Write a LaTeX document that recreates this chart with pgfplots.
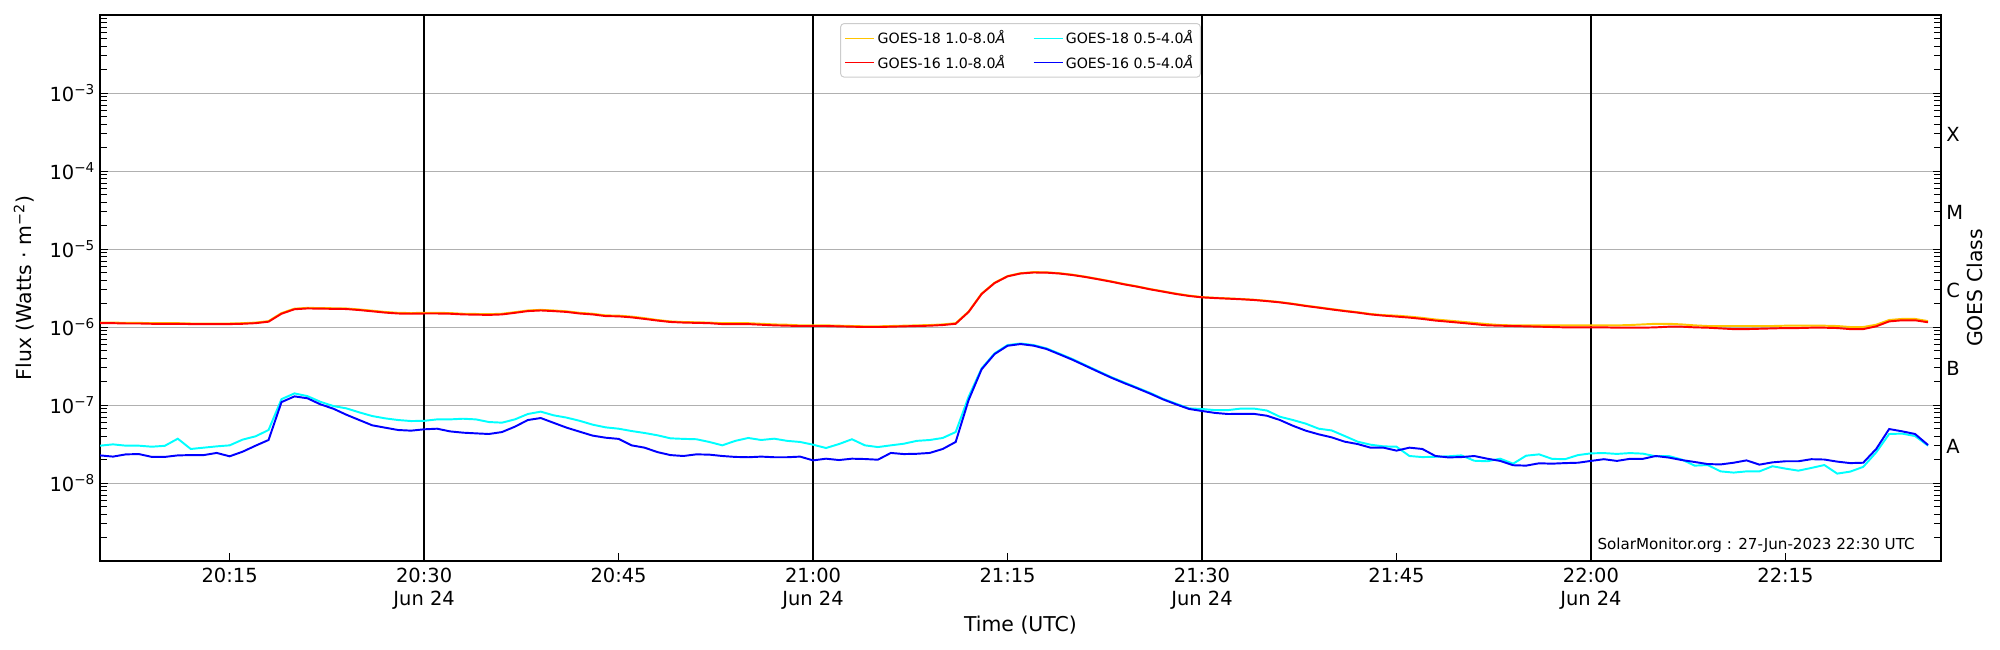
\documentclass[border=0pt]{standalone}
\usepackage{fontspec}
\setmainfont{DejaVu Sans}
\usepackage{pgfplots}
\pgfplotsset{compat=1.18}
\usepackage{pgfplotstable}
\definecolor{cyel}{HTML}{FFC400}
\definecolor{cred}{HTML}{FF0000}
\definecolor{ccya}{HTML}{00FFFF}
\definecolor{cblu}{HTML}{0000FF}
\pgfplotstableread{
m l18 l16 s18 s16
5 1.14e-6 1.12e-6 3.01e-8 2.26e-8
6 1.14e-6 1.12e-6 3.13e-8 2.18e-8
7 1.13e-6 1.11e-6 3.01e-8 2.33e-8
8 1.13e-6 1.11e-6 3.01e-8 2.35e-8
9 1.12e-6 1.10e-6 2.92e-8 2.16e-8
10 1.12e-6 1.10e-6 3.00e-8 2.16e-8
11 1.12e-6 1.10e-6 3.70e-8 2.26e-8
12 1.11e-6 1.09e-6 2.73e-8 2.28e-8
13 1.11e-6 1.09e-6 2.84e-8 2.28e-8
14 1.11e-6 1.09e-6 2.95e-8 2.43e-8
15 1.11e-6 1.09e-6 3.04e-8 2.20e-8
16 1.12e-6 1.10e-6 3.60e-8 2.52e-8
17 1.14e-6 1.12e-6 3.97e-8 3.01e-8
18 1.19e-6 1.17e-6 4.78e-8 3.56e-8
19 1.51e-6 1.48e-6 1.19e-7 1.09e-7
20 1.72e-6 1.69e-6 1.41e-7 1.29e-7
21 1.76e-6 1.73e-6 1.30e-7 1.22e-7
22 1.75e-6 1.72e-6 1.10e-7 1.02e-7
23 1.74e-6 1.71e-6 9.70e-8 8.97e-8
24 1.73e-6 1.70e-6 9.06e-8 7.51e-8
25 1.68e-6 1.65e-6 8.05e-8 6.42e-8
26 1.62e-6 1.59e-6 7.22e-8 5.49e-8
27 1.56e-6 1.53e-6 6.74e-8 5.12e-8
28 1.52e-6 1.49e-6 6.42e-8 4.78e-8
29 1.51e-6 1.48e-6 6.23e-8 4.69e-8
30 1.52e-6 1.49e-6 6.27e-8 4.88e-8
31 1.52e-6 1.49e-6 6.54e-8 4.97e-8
32 1.51e-6 1.48e-6 6.54e-8 4.59e-8
33 1.48e-6 1.45e-6 6.67e-8 4.42e-8
34 1.47e-6 1.44e-6 6.54e-8 4.33e-8
35 1.46e-6 1.43e-6 6.05e-8 4.25e-8
36 1.48e-6 1.45e-6 5.94e-8 4.50e-8
37 1.55e-6 1.52e-6 6.54e-8 5.27e-8
38 1.63e-6 1.60e-6 7.67e-8 6.42e-8
39 1.66e-6 1.63e-6 8.22e-8 6.81e-8
40 1.63e-6 1.60e-6 7.37e-8 5.90e-8
41 1.59e-6 1.56e-6 6.89e-8 5.12e-8
42 1.52e-6 1.49e-6 6.27e-8 4.55e-8
43 1.48e-6 1.45e-6 5.60e-8 4.05e-8
44 1.41e-6 1.38e-6 5.17e-8 3.81e-8
45 1.40e-6 1.37e-6 4.97e-8 3.68e-8
46 1.36e-6 1.33e-6 4.64e-8 3.04e-8
47 1.30e-6 1.27e-6 4.38e-8 2.84e-8
48 1.23e-6 1.21e-6 4.09e-8 2.49e-8
49 1.18e-6 1.16e-6 3.74e-8 2.28e-8
50 1.16e-6 1.14e-6 3.68e-8 2.22e-8
51 1.15e-6 1.13e-6 3.64e-8 2.33e-8
52 1.14e-6 1.12e-6 3.36e-8 2.31e-8
53 1.12e-6 1.09e-6 3.04e-8 2.22e-8
54 1.12e-6 1.09e-6 3.47e-8 2.16e-8
55 1.12e-6 1.09e-6 3.78e-8 2.14e-8
56 1.10e-6 1.07e-6 3.56e-8 2.18e-8
57 1.08e-6 1.05e-6 3.70e-8 2.14e-8
58 1.07e-6 1.04e-6 3.47e-8 2.14e-8
59 1.05e-6 1.03e-6 3.36e-8 2.18e-8
60 1.05e-6 1.03e-6 3.10e-8 1.95e-8
61 1.05e-6 1.03e-6 2.81e-8 2.05e-8
62 1.04e-6 1.02e-6 3.16e-8 1.97e-8
63 1.03e-6 1.01e-6 3.64e-8 2.05e-8
64 1.02e-6 1.00e-6 3.04e-8 2.03e-8
65 1.02e-6 1.00e-6 2.89e-8 1.99e-8
66 1.03e-6 1.01e-6 3.04e-8 2.43e-8
67 1.04e-6 1.02e-6 3.19e-8 2.35e-8
68 1.05e-6 1.03e-6 3.47e-8 2.37e-8
69 1.06e-6 1.04e-6 3.56e-8 2.43e-8
70 1.08e-6 1.06e-6 3.78e-8 2.73e-8
71 1.12e-6 1.10e-6 4.50e-8 3.36e-8
72 1.58e-6 1.56e-6 1.28e-7 1.16e-7
73 2.68e-6 2.65e-6 2.95e-7 2.87e-7
74 3.70e-6 3.66e-6 4.59e-7 4.50e-7
75 4.50e-6 4.46e-6 5.87e-7 5.75e-7
76 4.90e-6 4.85e-6 6.15e-7 6.05e-7
77 5.05e-6 5.00e-6 5.88e-7 5.77e-7
78 5.03e-6 4.98e-6 5.33e-7 5.23e-7
79 4.90e-6 4.85e-6 4.56e-7 4.47e-7
80 4.69e-6 4.64e-6 3.89e-7 3.81e-7
81 4.42e-6 4.38e-6 3.25e-7 3.19e-7
82 4.13e-6 4.09e-6 2.72e-7 2.67e-7
83 3.85e-6 3.81e-6 2.28e-7 2.24e-7
84 3.56e-6 3.52e-6 1.95e-7 1.91e-7
85 3.32e-6 3.29e-6 1.67e-7 1.64e-7
86 3.07e-6 3.04e-6 1.43e-7 1.40e-7
87 2.87e-6 2.84e-6 1.20e-7 1.18e-7
88 2.68e-6 2.65e-6 1.04e-7 1.02e-7
89 2.53e-6 2.50e-6 9.06e-8 8.90e-8
90 2.42e-6 2.40e-6 8.89e-8 8.38e-8
91 2.37e-6 2.35e-6 8.60e-8 7.92e-8
92 2.33e-6 2.31e-6 8.60e-8 7.67e-8
93 2.29e-6 2.27e-6 9.00e-8 7.70e-8
94 2.24e-6 2.22e-6 9.00e-8 7.70e-8
95 2.17e-6 2.15e-6 8.50e-8 7.29e-8
96 2.09e-6 2.07e-6 7.08e-8 6.43e-8
97 1.99e-6 1.97e-6 6.43e-8 5.43e-8
98 1.88e-6 1.86e-6 5.77e-8 4.69e-8
99 1.79e-6 1.77e-6 4.97e-8 4.21e-8
100 1.70e-6 1.68e-6 4.72e-8 3.85e-8
101 1.62e-6 1.60e-6 4.01e-8 3.39e-8
102 1.55e-6 1.53e-6 3.39e-8 3.16e-8
103 1.47e-6 1.45e-6 3.10e-8 2.84e-8
104 1.42e-6 1.40e-6 2.95e-8 2.84e-8
105 1.40e-6 1.36e-6 2.92e-8 2.60e-8
106 1.36e-6 1.32e-6 2.22e-8 2.84e-8
107 1.31e-6 1.27e-6 2.15e-8 2.73e-8
108 1.25e-6 1.21e-6 2.17e-8 2.22e-8
109 1.21e-6 1.17e-6 2.20e-8 2.13e-8
110 1.17e-6 1.13e-6 2.26e-8 2.15e-8
111 1.13e-6 1.09e-6 1.93e-8 2.22e-8
112 1.09e-6 1.05e-6 1.90e-8 2.05e-8
113 1.06e-6 1.04e-6 2.05e-8 1.92e-8
114 1.05e-6 1.03e-6 1.77e-8 1.69e-8
115 1.05e-6 1.02e-6 2.24e-8 1.67e-8
116 1.05e-6 1.01e-6 2.33e-8 1.79e-8
117 1.05e-6 1.00e-6 2.04e-8 1.77e-8
118 1.05e-6 0.99e-6 2.02e-8 1.80e-8
119 1.05e-6 0.99e-6 2.28e-8 1.82e-8
120 1.05e-6 0.99e-6 2.40e-8 1.92e-8
121 1.05e-6 0.99e-6 2.42e-8 2.02e-8
122 1.05e-6 0.98e-6 2.36e-8 1.92e-8
123 1.06e-6 0.98e-6 2.42e-8 2.04e-8
124 1.08e-6 0.98e-6 2.38e-8 2.04e-8
125 1.10e-6 0.99e-6 2.20e-8 2.22e-8
126 1.10e-6 1.01e-6 2.22e-8 2.12e-8
127 1.08e-6 1.01e-6 2.00e-8 1.97e-8
128 1.05e-6 0.99e-6 1.67e-8 1.86e-8
129 1.03e-6 0.98e-6 1.70e-8 1.75e-8
130 1.03e-6 0.96e-6 1.41e-8 1.73e-8
131 1.03e-6 0.94e-6 1.36e-8 1.82e-8
132 1.03e-6 0.94e-6 1.41e-8 1.95e-8
133 1.03e-6 0.95e-6 1.41e-8 1.72e-8
134 1.03e-6 0.96e-6 1.64e-8 1.84e-8
135 1.04e-6 0.97e-6 1.53e-8 1.90e-8
136 1.04e-6 0.97e-6 1.44e-8 1.90e-8
137 1.04e-6 0.98e-6 1.56e-8 2.02e-8
138 1.04e-6 0.98e-6 1.70e-8 2.00e-8
139 1.03e-6 0.97e-6 1.32e-8 1.88e-8
140 1.00e-6 0.94e-6 1.40e-8 1.80e-8
141 1.00e-6 0.94e-6 1.61e-8 1.82e-8
142 1.07e-6 1.02e-6 2.47e-8 2.73e-8
143 1.23e-6 1.18e-6 4.25e-8 4.92e-8
144 1.27e-6 1.22e-6 4.30e-8 4.60e-8
145 1.27e-6 1.22e-6 4.00e-8 4.25e-8
146 1.19e-6 1.15e-6 3.01e-8 3.07e-8
}\goes

\begin{document}
\begin{tikzpicture}[x=1pt,y=1pt]
\useasboundingbox (0,0) rectangle (1440,468);
\begin{axis}[
  at={(72pt,64.08pt)}, anchor=south west,
  scale only axis, width=1325.5pt, height=393.1pt,
  clip mode=individual,
  xmin=5, xmax=147,
  ymode=log, ymin=1e-9, ymax=1e-2,
  axis line style={line width=0.9pt},
  tick align=inside,
  xtick pos=bottom,
  xtick={15,30,45,60,75,90,105,120,135},
  xticklabels={20:15,{20:30\\Jun 24},20:45,{21:00\\Jun 24},21:15,{21:30\\Jun 24},21:45,{22:00\\Jun 24},22:15},
  xticklabel style={font=\fontsize{14}{16.6}\selectfont, align=center, inner sep=0pt, yshift=-5pt},
  ytick={1e-8,1e-7,1e-6,1e-5,1e-4,1e-3},
  yticklabels={10\textsuperscript{−8},10\textsuperscript{−7},10\textsuperscript{−6},10\textsuperscript{−5},10\textsuperscript{−4},10\textsuperscript{−3}},
  yticklabel style={font=\fontsize{14}{16}\selectfont},
  minor ytick={2e-9,3e-9,4e-9,5e-9,6e-9,7e-9,8e-9,9e-9,
    2e-8,3e-8,4e-8,5e-8,6e-8,7e-8,8e-8,9e-8,
    2e-7,3e-7,4e-7,5e-7,6e-7,7e-7,8e-7,9e-7,
    2e-6,3e-6,4e-6,5e-6,6e-6,7e-6,8e-6,9e-6,
    2e-5,3e-5,4e-5,5e-5,6e-5,7e-5,8e-5,9e-5,
    2e-4,3e-4,4e-4,5e-4,6e-4,7e-4,8e-4,9e-4,
    2e-3,3e-3,4e-3,5e-3,6e-3,7e-3,8e-3,9e-3},
  major tick length=5.5pt, minor tick length=5.2pt,
  every tick/.style={black, line width=0.7pt},
  ymajorgrids,
  major grid style={color=black!31, line width=0.7pt},
  extra x ticks={30,60,90,120},
  extra x tick labels={},
  extra x tick style={grid=major, major grid style={black, line width=0.9pt}, major tick length=0pt},
  xlabel={Time (UTC)},
  xlabel style={font=\fontsize{14.7}{17}\selectfont, at={(axis description cs:0.5,-0.1172)}, anchor=center},
  ylabel={Flux (Watts · m\textsuperscript{−2})},
  ylabel style={font=\fontsize{14.7}{17}\selectfont, at={(axis description cs:-0.0413,0.5)}, anchor=center},
  legend columns=2,
  legend cell align=left,
  legend style={at={(0.5,1)}, anchor=north, yshift=-5.8pt,
    font=\fontsize{10.2}{11.5}\selectfont, draw=black!20, line width=0.7pt,
    rounded corners=2.5pt, fill=white, row sep=2.6pt,
    inner xsep=3pt, inner ysep=3pt,
    /tikz/every even column/.append style={column sep=18pt}},
  legend image code/.code={\draw[#1, line width=0.75pt] (0pt,0pt) -- (20.9pt,0pt);},
]
\addplot[cyel, line width=1.4pt] table[x=m, y=l18] {\goes};
\addlegendentry{GOES-18 1.0-8.0\textit{Å}}
\addplot[ccya, line width=1.4pt] table[x=m, y=s18] {\goes};
\addlegendentry{GOES-18 0.5-4.0\textit{Å}}
\addplot[cred, line width=1.4pt] table[x=m, y=l16] {\goes};
\addlegendentry{GOES-16 1.0-8.0\textit{Å}}
\addplot[cblu, line width=1.4pt] table[x=m, y=s16] {\goes};
\addlegendentry{GOES-16 0.5-4.0\textit{Å}}

\node[anchor=base east, inner sep=0pt, font=\fontsize{10.9}{13}\selectfont] at (rel axis cs:1,0) [xshift=-18.7pt, yshift=8.6pt] {SolarMonitor.org : 27-Jun-2023 22:30 UTC};
\node[anchor=west, inner sep=0pt, font=\fontsize{14}{16}\selectfont] at (axis cs:147,2.95e-4) [xshift=3.6pt] {X};
\node[anchor=west, inner sep=0pt, font=\fontsize{14}{16}\selectfont] at (axis cs:147,2.95e-5) [xshift=3.6pt] {M};
\node[anchor=west, inner sep=0pt, font=\fontsize{14}{16}\selectfont] at (axis cs:147,2.95e-6) [xshift=3.6pt] {C};
\node[anchor=west, inner sep=0pt, font=\fontsize{14}{16}\selectfont] at (axis cs:147,2.95e-7) [xshift=3.6pt] {B};
\node[anchor=west, inner sep=0pt, font=\fontsize{14}{16}\selectfont] at (axis cs:147,2.95e-8) [xshift=3.6pt] {A};
\node[rotate=90, anchor=center, font=\fontsize{14.7}{17}\selectfont] at (axis description cs:1.01847,0.5) {GOES Class};
\end{axis}
\end{tikzpicture}
\end{document}
